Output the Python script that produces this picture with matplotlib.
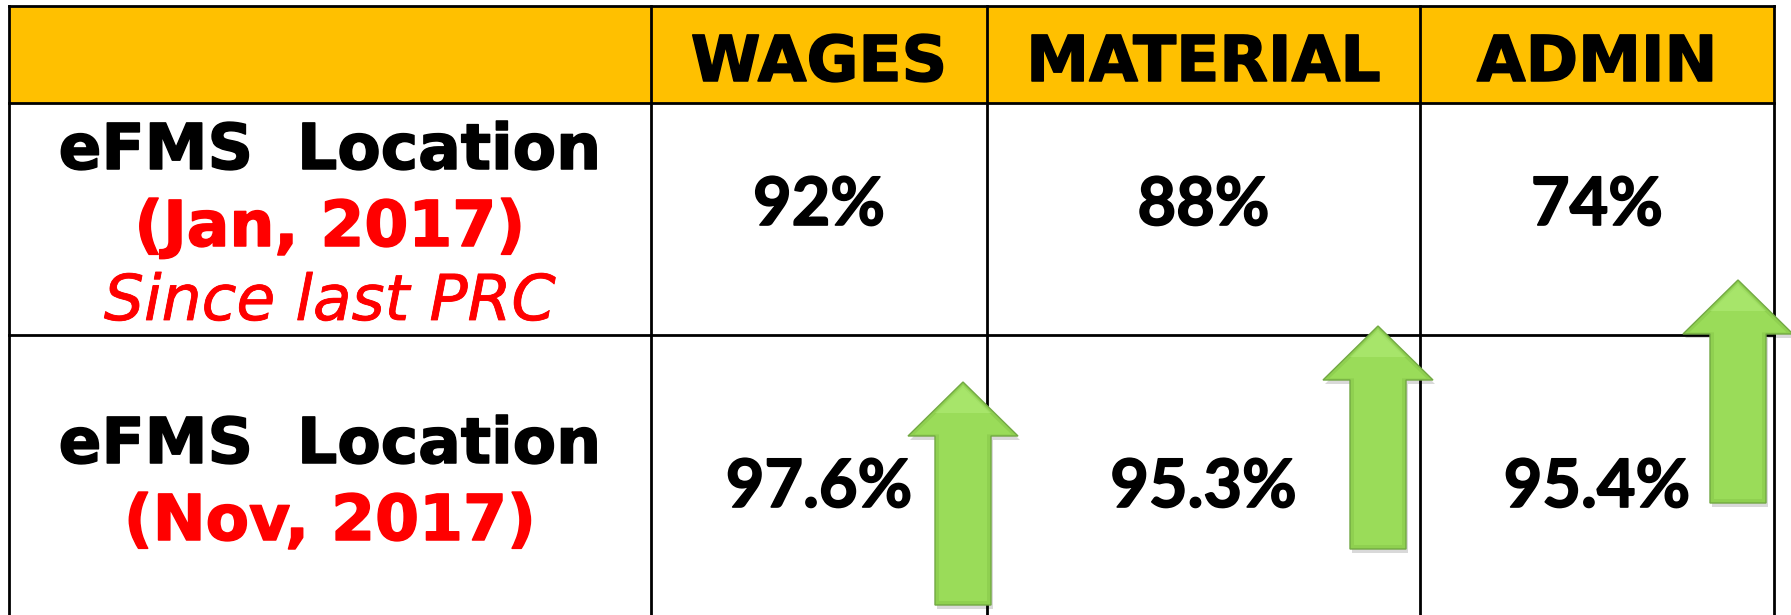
#!/usr/bin/env python3
"""eFMS location coverage table with up arrows"""

import matplotlib
matplotlib.use('Agg')
import matplotlib.pyplot as plt
import matplotlib.patheffects as pe
from matplotlib.patches import Rectangle, Polygon

# Table content
columns = ['WAGES', 'MATERIAL', 'ADMIN']
row_titles = ['eFMS  Location', 'eFMS  Location']
row_dates = ['(Jan, 2017)', '(Nov, 2017)']
row_notes = ['Since last PRC', '']
jan_values = ['92%', '88%', '74%']
nov_values = ['97.6%', '95.3%', '95.4%']

# Layout in pixels (figure is 1791 x 615)
W, H = 1791, 615
col_edges = [9, 651, 987, 1420, 1774]
row_edges = [6, 103, 335, H]
yellow = '#FFC000'
red = '#FF0000'

fig = plt.figure(figsize=(W / 100, H / 100), dpi=100)
ax = fig.add_axes([0, 0, 1, 1])
ax.set_xlim(0, W)
ax.set_ylim(H, 0)
ax.axis('off')

# header band
ax.add_patch(Rectangle((col_edges[0], row_edges[0]), col_edges[-1] - col_edges[0],
                       row_edges[1] - row_edges[0], facecolor=yellow, edgecolor='none', zorder=1))

# grid lines
for y in row_edges[:-1]:
    ax.plot([col_edges[0], col_edges[-1]], [y, y], color='black', lw=2.0, zorder=2,
            solid_capstyle='projecting')
for x in col_edges:
    ax.plot([x, x], [row_edges[0], H + 5], color='black', lw=2.0, zorder=2)


def thick(color, w=1.1):
    # fake a heavier weight (Verdana/Calibri bold look)
    return [pe.withStroke(linewidth=w, foreground=color)]


hdr_font = dict(family='DejaVu Sans', fontweight='bold', fontsize=45.5)
num_font = dict(family='Lato', fontweight='bold', fontsize=48)

# header labels
for i, name in enumerate(columns):
    cx = (col_edges[i + 1] + col_edges[i + 2]) / 2
    ax.text(cx, 81, name, ha='center', va='baseline', color='black', zorder=3,
            path_effects=thick('black'), **hdr_font)

# row labels
lab_x = (col_edges[0] + col_edges[1]) / 2
title_base = [169, 463]
for r in range(2):
    b = title_base[r]
    ax.text(lab_x, b, row_titles[r], ha='center', va='baseline', color='black', zorder=3,
            path_effects=thick('black'), **hdr_font)
    ax.text(lab_x, b + 77, row_dates[r], ha='center', va='baseline', color=red, zorder=3,
            path_effects=thick(red), **hdr_font)
    if row_notes[r]:
        ax.text(lab_x, b + 151, row_notes[r], ha='center', va='baseline', color=red,
                family='DejaVu Sans', style='italic', fontsize=45.5, zorder=3,
                path_effects=thick(red, 0.6))

# values
num_base = [225, 507]
for r, vals in enumerate([jan_values, nov_values]):
    for i, v in enumerate(vals):
        cx = (col_edges[i + 1] + col_edges[i + 2]) / 2
        ax.text(cx, num_base[r], v, ha='center', va='baseline', color='black', zorder=3,
                path_effects=thick('black', 1.2), **num_font)

# green up arrows (tip x, tip y)
arrow_tips = [(963, 382), (1378, 326), (1738, 280)]
head_hw, head_h, shaft_hw, length = 55, 54, 28, 223


def arrow_pts(tx, ty, dx=0, dy=0, inset=0):
    hw, sw = head_hw - inset * 1.6, shaft_hw - inset
    return [(tx + dx, ty + inset * 1.4 + dy),
            (tx + hw + dx, ty + head_h - inset * 0.4 + dy),
            (tx + sw + dx, ty + head_h - inset * 0.4 + dy),
            (tx + sw + dx, ty + length - inset + dy),
            (tx - sw + dx, ty + length - inset + dy),
            (tx - sw + dx, ty + head_h - inset * 0.4 + dy),
            (tx - hw + dx, ty + head_h - inset * 0.4 + dy)]


for tx, ty in arrow_tips:
    # soft shadow
    ax.add_patch(Polygon(arrow_pts(tx, ty, 2, 4), closed=True, facecolor='black',
                         edgecolor='none', alpha=0.15, zorder=4))
    # body with darker rim
    ax.add_patch(Polygon(arrow_pts(tx, ty), closed=True, facecolor='#8FD050',
                         edgecolor='#72A843', lw=1.0, zorder=5))
    # bevel highlight
    ax.add_patch(Polygon(arrow_pts(tx, ty, inset=4), closed=True, facecolor='#9ADC59',
                         edgecolor='none', zorder=6))
    ax.add_patch(Polygon([(tx, ty + 3), (tx + 28, ty + 31), (tx - 28, ty + 31)], closed=True,
                         facecolor='#B4EE7C', edgecolor='none', alpha=0.5, zorder=7))

plt.savefig('out.png', dpi=100, facecolor='white')
